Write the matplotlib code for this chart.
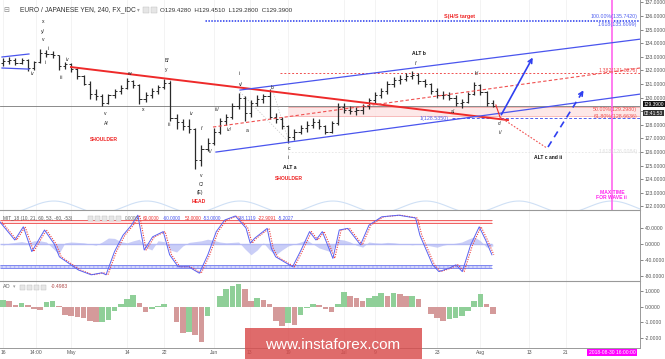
import numpy as np
import matplotlib
matplotlib.use("Agg")
import matplotlib.pyplot as plt
from matplotlib.patches import Rectangle
import matplotlib.transforms as mtransforms

plt.rcParams['font.family'] = ['Liberation Sans', 'DejaVu Sans']

# ---------------- DATA ----------------
# daily OHLC (trading-day index 0 = 16 Apr 2018)
opens = [132.55,132.70,132.80,132.55,132.80,132.20,132.60,133.30,133.20,133.10,
         132.30,132.45,132.10,131.60,131.00,130.30,130.10,129.60,130.20,130.50,
         130.70,131.20,130.90,129.90,130.20,130.50,130.80,131.10,128.50,128.20,
         127.90,127.70,125.40,126.20,126.70,127.50,128.30,128.60,129.40,130.00,
         128.90,129.60,129.90,130.10,128.60,128.40,127.90,127.10,127.50,127.80,
         128.00,128.20,127.90,127.50,128.10,129.30,129.10,129.00,129.10,129.40,
         129.80,130.20,130.50,131.00,131.30,131.40,131.60,131.70,131.20,131.00,
         130.50,130.20,130.20,130.00,129.60,129.70,130.30,130.90,130.40,129.60]
highs = [132.95,133.00,132.90,132.95,132.85,132.70,133.55,133.50,133.40,133.15,
         132.60,132.55,132.20,131.70,131.20,130.60,130.30,130.30,130.60,130.90,
         131.45,131.30,131.00,130.40,130.70,130.95,131.40,131.20,128.80,128.40,
         128.40,127.80,126.50,127.00,127.80,128.50,128.80,129.60,130.35,130.10,
         129.80,130.20,130.30,130.60,128.90,128.60,128.00,127.70,128.00,128.30,
         128.50,128.40,128.00,128.30,129.60,129.60,129.40,129.30,129.50,130.00,
         130.40,130.70,131.20,131.50,131.70,131.80,131.95,131.80,131.40,131.10,
         130.70,130.50,130.40,130.20,129.90,130.40,131.15,131.00,130.50,129.80]
lows = [132.35,132.45,132.40,132.50,131.95,132.05,132.55,133.00,132.90,132.05,
        132.10,131.90,131.40,130.90,129.90,129.80,129.35,129.50,130.00,130.30,
        130.60,130.70,129.55,129.70,130.00,130.30,130.60,128.30,127.70,127.60,
        127.40,124.75,125.00,126.10,126.50,127.30,128.00,128.40,129.20,128.30,
        128.60,129.40,129.60,128.40,128.10,127.70,126.65,126.90,127.30,127.50,
        127.80,127.70,127.30,127.40,128.00,128.90,128.80,128.70,128.80,129.20,
        129.60,130.00,130.30,130.80,131.00,131.20,131.40,131.00,130.80,130.30,
        130.00,129.90,129.80,129.40,129.25,129.60,130.20,130.20,129.40,129.28]
closes = [132.70,132.80,132.55,132.80,132.20,132.60,133.30,133.20,133.10,132.30,
          132.45,132.10,131.60,131.00,130.30,130.10,129.60,130.20,130.50,130.70,
          131.20,130.90,129.90,130.20,130.50,130.80,131.10,128.50,128.20,127.90,
          127.70,125.40,126.20,126.70,127.50,128.30,128.60,129.40,130.00,128.90,
          129.60,129.90,130.10,128.60,128.40,127.90,127.10,127.50,127.80,128.00,
          128.20,127.90,127.50,128.10,129.30,129.10,129.00,129.10,129.40,129.80,
          130.20,130.50,131.00,131.30,131.40,131.60,131.70,131.20,131.00,130.50,
          130.20,130.20,130.00,129.60,129.70,130.30,130.90,130.40,129.60,129.39]
last_price = 129.39

# MIT oscillator (trace points: day index, value)
osc_days = [-0.48,1.91,3.28,4.65,6.70,8.27,9.10,12.17,14.23,15.94,16.62,17.99,19.36,20.72,
            21.75,22.78,24.14,25.85,26.88,28.25,29.96,31.67,33.04,34.40,35.77,37.48,39.19,
            39.88,40.56,42.61,43.29,43.98,46.71,48.08,49.45,50.48,51.50,53.21,54.24,55.61,
            57.66,59.03,61.08,63.81,66.55,67.24,69.29,70.31,72.02,73.05,74.08,75.44,76.81,
            77.84,78.86]
osc_vals = [55,10,43,-19,35,0,-32,-65,-77,-72,-77,-19,22,47,
            72,-15,18,31,-27,-57,-57,-73,-27,31,60,70,40,
            2,14,39,-11,-32,-57,-15,31,10,31,-36,35,39,
            -2,47,68,72,65,22,-52,-69,-60,-52,-69,-2,43,
            10,-27]
osc_hist = [-3,2,4,6,3,8,8,5,-10,-25,3,5,4,3,0,-3,5,15,14,6,
            3,8,12,-8,-15,8,6,-15,-20,-5,4,6,8,12,9,5,3,4,5,-12,
            -27,-15,3,-15,-27,-15,-5,0,5,10,0,-10,-15,-20,12,10,5,-3,-8,5,
            3,2,4,3,1,0,-2,0,-2,-5,-8,-3,0,2,5,12,18,8,-8,-5]
osc_levels_pos = [60, 53]
osc_levels_neg = [-60, -53]

# Awesome oscillator (daily)
ao_vals = [0.45,0.35,0.10,0.25,0.12,-0.15,-0.20,0.30,0.35,0.05,
           -0.50,-0.60,-0.65,-0.75,-0.90,-1.00,-1.00,-0.85,-0.30,0.20,
           0.48,0.72,0.25,-0.35,-0.15,0.05,0.15,-0.05,-0.95,-1.65,
           -1.60,-1.80,-2.25,-0.60,0.00,0.70,1.15,1.30,1.45,1.10,
           0.35,0.55,0.40,0.20,-0.90,-1.25,-1.05,-1.20,-0.50,-0.10,
           0.20,0.10,-0.15,-0.35,0.20,0.95,0.70,0.55,0.35,0.55,
           0.70,0.85,0.65,0.85,0.80,0.65,0.65,0.50,0.00,-0.45,
           -0.75,-0.90,-0.80,-0.70,-0.60,-0.25,0.35,0.80,0.20,-0.45]

# x-axis tick labels
tick_days = [0, 5.3, 11, 20, 26, 34, 39.8, 46, 55, 60, 70, 77, 84.9, 90.8]
tick_labels = ['16', '14:00', 'May', '14', '22', 'Jun', '13', '19', 'Jul', '9', '23', 'Aug', '13', '21']

# price-axis tick labels (129 is hidden behind the live-price boxes)
price_ticks = list(range(122, 138))
price_tick_labels = ['' if v == 129 else f"{v:.4f}" for v in price_ticks]

# drawn analysis objects (day index, price)
small_channel_up = [(-0.16, 132.99), (4.19, 133.21)]
small_channel_dn = [(-0.16, 132.18), (4.19, 132.10)]
red_trend = [(10.97, 132.25), (81.45, 128.35)]
channel_lower = [(34.35, 126.0), (102.74, 130.26)]
channel_upper = [(38.23, 130.56), (102.74, 134.30)]
red_dashed = [(33.87, 127.84), (102.74, 132.18)]
fib_1382 = 131.8276
fib_50 = 129.2980
fib_618 = 128.6636
level_1 = 128.5350
target_100 = 135.7420
target_1618 = 135.6099
ext_1618 = 126.0084
path_red = [(79.5, 129.46), (80.16, 128.57)]
path_red_dotted = [(80.16, 128.57), (87.74, 126.29)]
arrow_main = [(80.16, 128.57), (85.65, 133.13)]
arrow_alt = [(87.9, 126.37), (93.87, 130.71)]
fan_lines = [[(38.23, 130.41), (46.13, 126.74)], [(43.39, 130.71), (46.13, 126.74)]]
max_time_day = 98.2
cycle_crests = [8.2, 23.2, 38.2, 53.2, 68.2, 83.2, 98.2]
cycle_period = 15.0

wave_labels = [
    ("x", 6.45, 135.63), ("y/", 6.45, 134.90), ("v", 6.45, 134.24), ("ii", 7.42, 133.65),
    ("i", 6.77, 132.62), ("iv", 4.68, 131.74), ("iii", 9.35, 131.51), ("iv", 10.32, 132.84),
    ("w", 20.32, 131.81), ("v", 16.45, 128.87), ("A/", 16.61, 128.13), ("x", 22.58, 129.16),
    ("B/", 26.45, 132.76), ("y", 26.29, 132.10), ("ii", 27.1, 131.15), ("iii", 26.77, 128.06),
    ("iv", 30.32, 128.87), ("v", 31.94, 124.31), ("C/", 31.94, 123.65), ("(E)", 31.77, 122.99),
    ("i/", 32.1, 127.76), ("ii/", 33.39, 126.07), ("iii/", 34.52, 129.16), ("iv/", 36.45, 127.69),
    ("i", 38.06, 131.74), ("v/", 38.39, 131.0), ("a", 39.35, 127.62), ("b", 43.39, 130.71),
    ("c", 46.13, 126.29), ("ii", 46.13, 125.63), ("i/", 66.6, 132.54), ("a/", 72.58, 129.01),
    ("b/", 76.45, 131.74), ("c/", 80.16, 128.13), ("ii/", 80.16, 127.47),
]
bold_labels = [("ALT a", 46.29, 124.90), ("ALT b", 67.1, 133.28), ("ALT c and ii", 87.9, 125.63)]
red_labels = [("SHOULDER", 16.29, 126.96), ("HEAD", 31.61, 122.40), ("SHOULDER", 46.13, 124.09)]

# ---------------- FIGURE ----------------
W, H = 665, 359
fig = plt.figure(figsize=(W / 100, H / 100), dpi=100)
fig.patch.set_facecolor('white')

def fx(px):
    return px / W

def fy(py):
    return 1 - py / H

axw = 640 / W
ax1 = fig.add_axes([0, fy(210), axw, 210 / H])
ax2 = fig.add_axes([0, fy(281), axw, 71 / H])
ax3 = fig.add_axes([0, fy(348), axw, 67 / H])

XMIN, XMAX = -0.48, 102.74
tick_col = '#555555'
for ax in (ax1, ax2, ax3):
    ax.set_xlim(XMIN, XMAX)
    ax.yaxis.tick_right()
    ax.tick_params(axis='y', labelsize=3.6, colors=tick_col, length=2, width=0.5, pad=1.5)
    ax.tick_params(axis='x', length=0)
    for s in ('top', 'left', 'bottom'):
        ax.spines[s].set_visible(False)
    ax.spines['right'].set_color('#999999')
    ax.spines['right'].set_linewidth(0.7)
    ax.set_xticks(tick_days)
    ax.grid(axis='x', color='#f1f1f1', lw=0.6)
    ax.set_axisbelow(True)
for ax in (ax2, ax3):
    ax.spines['top'].set_visible(True)
    ax.spines['top'].set_color('#999999')
    ax.spines['top'].set_linewidth(0.8)
ax3.spines['bottom'].set_visible(True)
ax3.spines['bottom'].set_color('#999999')
ax3.spines['bottom'].set_linewidth(0.7)
ax1.set_xticklabels([])
ax2.set_xticklabels([])
ax3.set_xticklabels(tick_labels, fontsize=3.6, color=tick_col)
ax3.tick_params(axis='x', pad=1.5)

# ---- main price panel ----
ax1.set_ylim(121.74, 137.18)
ax1.set_yticks(price_ticks)
ax1.set_yticklabels(price_tick_labels)

days = np.arange(len(closes))
# cycle lines
xs = np.linspace(XMIN, XMAX, 800)
cyc = 121.96 + 0.44 * np.cos(2 * np.pi * (xs - cycle_crests[0]) / cycle_period)
ax1.plot(xs, cyc, color='#cfe0f5', lw=0.8, zorder=1)

ax1.axhline(last_price, color='#777777', lw=0.6, zorder=2)

# fib zones
ax1.fill_between([46, XMAX], fib_618, fib_50, color='#fde3e3', alpha=0.8, lw=0, zorder=1)
ax1.hlines([fib_50, fib_618], 46, XMAX, colors='#f4a0a0', lw=0.5, zorder=2)
ax1.hlines(fib_1382, 44.7, XMAX, colors='#f05050', lw=0.7, linestyles=(0, (2, 2)), zorder=2)
ax1.hlines([target_100, target_1618], 32.6, XMAX, colors='#5060f0', lw=0.7, linestyles=(0, (1.5, 1.5)), zorder=2)
ax1.hlines(level_1, 72.4, XMAX, colors='#5060f0', lw=0.7, linestyles=(0, (3, 2)), zorder=2)
ax1.hlines(ext_1618, 46, XMAX, colors='#e4e4e4', lw=0.6, linestyles=(0, (2, 2)), zorder=1)

for seg in fan_lines:
    ax1.plot(*zip(*seg), color='#c8c8c8', lw=0.5, ls=(0, (2, 2)), zorder=2)

# candles
ax1.vlines(days, lows, highs, color='#2a2a2a', lw=0.9, zorder=4)
ax1.hlines(opens, days - 0.35, days, color='#2a2a2a', lw=0.7, zorder=4)
ax1.hlines(closes, days, days + 0.35, color='#2a2a2a', lw=0.7, zorder=4)

# trend lines
blue = '#4a55ee'
ax1.plot(*zip(*small_channel_up), color=blue, lw=0.9, zorder=5)
ax1.plot(*zip(*small_channel_dn), color=blue, lw=0.9, zorder=5)
ax1.plot(*zip(*red_trend), color='#ee2a2a', lw=1.4, zorder=5)
ax1.plot(*zip(*channel_lower), color=blue, lw=0.9, zorder=5)
ax1.plot(*zip(*channel_upper), color=blue, lw=0.9, zorder=5)
ax1.plot(*zip(*red_dashed), color='#f05050', lw=0.8, ls=(0, (3, 2)), zorder=5)
ax1.plot(*zip(*path_red), color='#ee2a2a', lw=0.8, zorder=5)
ax1.plot(*zip(*path_red_dotted), color='#f05050', lw=0.8, ls=(0, (1.5, 1.5)), zorder=5)
ax1.annotate('', xy=arrow_main[1], xytext=arrow_main[0],
             arrowprops=dict(arrowstyle='->', color='#2f3ff0', lw=1.2, mutation_scale=7), zorder=6)
ax1.plot(*zip(*arrow_alt), color='#2f3ff0', lw=1.2, ls=(0, (4, 3)), zorder=6)
(ax0, ay0), (ax_1, ay1) = arrow_alt
ax1.annotate('', xy=arrow_alt[1], xytext=(ax0 + 0.85 * (ax_1 - ax0), ay0 + 0.85 * (ay1 - ay0)),
             arrowprops=dict(arrowstyle='->', color='#2f3ff0', lw=1.2, mutation_scale=7), zorder=6)

ax1.axvline(max_time_day, color='#ff66ee', lw=1.2, zorder=3)

fs = 3.6
for t, x, y in wave_labels:
    ax1.text(x, y, t, fontsize=fs, color='#222222', ha='center', va='center', zorder=7)
for t, x, y in bold_labels:
    ax1.text(x, y, t, fontsize=fs, color='#111111', ha='center', va='center', fontweight='bold', zorder=7)
for t, x, y in red_labels:
    ax1.text(x, y, t, fontsize=fs, color='#ee2222', ha='center', va='center', fontweight='bold', zorder=7)
ax1.text(73.7, 136.0, "S(H/S target", fontsize=3.9, color='#ee2222', ha='center', va='center', fontweight='bold')
ax1.text(max_time_day, 122.84, "MAX TIME\nFOR WAVE ii", fontsize=3.6, color='#ff22ee', ha='center',
         va='center', fontweight='bold', linespacing=0.95)
ax1.text(69.52, 128.50, "1(128.5350)", fontsize=3.8, color='#5060f0', ha='center', va='center')

rx = 102.3
ax1.text(rx, target_100 + 0.02, "100.00%(135.7420)", fontsize=3.8, color='#5060f0', ha='right', va='bottom')
ax1.text(rx, target_1618 - 0.02, "1.618(135.6099)", fontsize=3.8, color='#5060f0', ha='right', va='top')
ax1.text(rx, fib_1382 + 0.02, "1.382(131.8276)", fontsize=3.8, color='#f05050', ha='right', va='bottom')
ax1.text(rx, fib_50 - 0.02, "50.00%(129.2980)", fontsize=3.8, color='#f05050', ha='right', va='top')
ax1.text(rx, fib_618 - 0.02, "61.80%(128.6636)", fontsize=3.8, color='#f05050', ha='right', va='center')
ax1.text(rx, ext_1618, "1.618(126.0084)", fontsize=3.8, color='#dddddd', ha='right', va='center')

trans = mtransforms.blended_transform_factory(ax1.transAxes, ax1.transData)
ax1.text(1.006, last_price + 0.12, "129.3900", transform=trans, fontsize=3.5, color='white',
         ha='left', va='center', bbox=dict(boxstyle='square,pad=0.12', fc='#111111', ec='none'), zorder=10)
ax1.text(1.006, last_price - 0.52, "02:41:53", transform=trans, fontsize=3.5, color='white',
         ha='left', va='center', bbox=dict(boxstyle='square,pad=0.12', fc='#333333', ec='none'), zorder=10)

# ---- oscillator panel ----
ax2.set_ylim(-92.5, 85)
ax2.set_yticks([40, 0, -40, -80])
ax2.set_yticklabels(["40.0000", "0.0000", "-40.0000", "-80.0000"])
ax2.fill_between(np.arange(len(osc_hist)), 0, osc_hist, color='#b4baf4', alpha=0.7, lw=0)
ax2.hlines(0, XMIN, 78.9, colors='#b4baf4', lw=1.0)
ax2.fill_between([XMIN, 78.9], osc_levels_pos[1], osc_levels_pos[0], color='#ffe4e4', lw=0)
ax2.hlines(osc_levels_pos, XMIN, 78.9, colors='#f06060', lw=0.7)
ax2.fill_between([XMIN, 78.9], osc_levels_neg[0], osc_levels_neg[1], color='#d4d7fa', lw=0,
                 hatch='||||', edgecolor='#b4b9f4')
ax2.hlines(osc_levels_neg, XMIN, 78.9, colors='#8088f0', lw=0.7)
ax2.plot(np.array(osc_days) + 0.3, osc_vals, color='#ee4040', lw=0.8, ls=(0, (1, 1.2)))
ax2.plot(osc_days, osc_vals, color='#5a62f0', lw=0.7)

# ---- AO panel ----
ax3.set_ylim(-2.64, 1.64)
ax3.set_yticks([1, 0, -1, -2])
ax3.set_yticklabels(["1.0000", "0.0000", "-1.0000", "-2.0000"])
ao_cols = ['#8fcf98' if (i == 0 or ao_vals[i] >= ao_vals[i - 1]) else '#d49a9a' for i in range(len(ao_vals))]
ax3.bar(np.arange(len(ao_vals)), ao_vals, width=0.9, color=ao_cols, lw=0)

# ---- header texts ----
fig.text(fx(3), fy(10), "⊟", fontsize=5, color='#888888', ha='left', va='center')
fig.text(fx(20), fy(10), "EURO / JAPANESE YEN, 240, FX_IDC", fontsize=4.8, color='#333333', ha='left', va='center')
fig.text(fx(137), fy(10), "▾", fontsize=4, color='#999999', ha='left', va='center', family='DejaVu Sans')
for k in range(2):
    fig.patches.append(Rectangle((fx(143 + k * 8), fy(13)), 6 / W, 6 / H, transform=fig.transFigure,
                                 fc='#e6e6e6', ec='#bbbbbb', lw=0.3))
fig.text(fx(160), fy(10), "O129.4280  H129.4510  L129.2800  C129.3900", fontsize=4.5, color='#333333',
         ha='left', va='center')

fig.text(fx(3), fy(218), "MIT_18 (10, 21, 60, 53, -60, -53)", fontsize=3.4, color='#555555', ha='left', va='center')
for k in range(5):
    fig.patches.append(Rectangle((fx(88 + k * 7), fy(221)), 5 / W, 5 / H, transform=fig.transFigure,
                                 fc='#e6e6e6', ec='#bbbbbb', lw=0.3))
hdr = [("0.0000", 125, '#777777'), ("60.0000", 143, '#ee3333'), ("-60.0000", 163, '#4a55ee'),
       ("53.0000", 185, '#ee3333'), ("-53.0000", 203, '#4a55ee'), ("-38.1119", 238, '#4a55ee'),
       ("-22.9091", 258, '#ee3333'), ("-5.2027", 278, '#4a55ee')]
for t, px, c in hdr:
    fig.text(fx(px), fy(218), t, fontsize=3.4, color=c, ha='left', va='center')

fig.text(fx(3), fy(287), "AO", fontsize=3.8, color='#555555', ha='left', va='center')
fig.text(fx(13), fy(287), "▾", fontsize=3.5, color='#999999', ha='left', va='center', family='DejaVu Sans')
for k in range(4):
    fig.patches.append(Rectangle((fx(20 + k * 7), fy(290)), 5 / W, 5 / H, transform=fig.transFigure,
                                 fc='#e6e6e6', ec='#bbbbbb', lw=0.3))
fig.text(fx(51), fy(287), "-0.4983", fontsize=3.6, color='#b04a4a', ha='left', va='center')

# date box
fig.text(fx(612), fy(352.5), "2018-08-30 16:00:00", fontsize=3.6, color='white', ha='center', va='center',
         bbox=dict(boxstyle='square,pad=0.25', fc='#ff00ff', ec='none'))

# watermark (semi-transparent, as in the reference)
fig.patches.append(Rectangle((fx(245), 0), 177 / W, 31 / H, transform=fig.transFigure,
                             fc='#d94a4a', ec='none', alpha=0.82, zorder=20))
fig.text(fx(333), fy(345), "www.instaforex.com", fontsize=11, color='white', ha='center', va='center', zorder=21)

fig.savefig("out.png", dpi=100, facecolor='white')
